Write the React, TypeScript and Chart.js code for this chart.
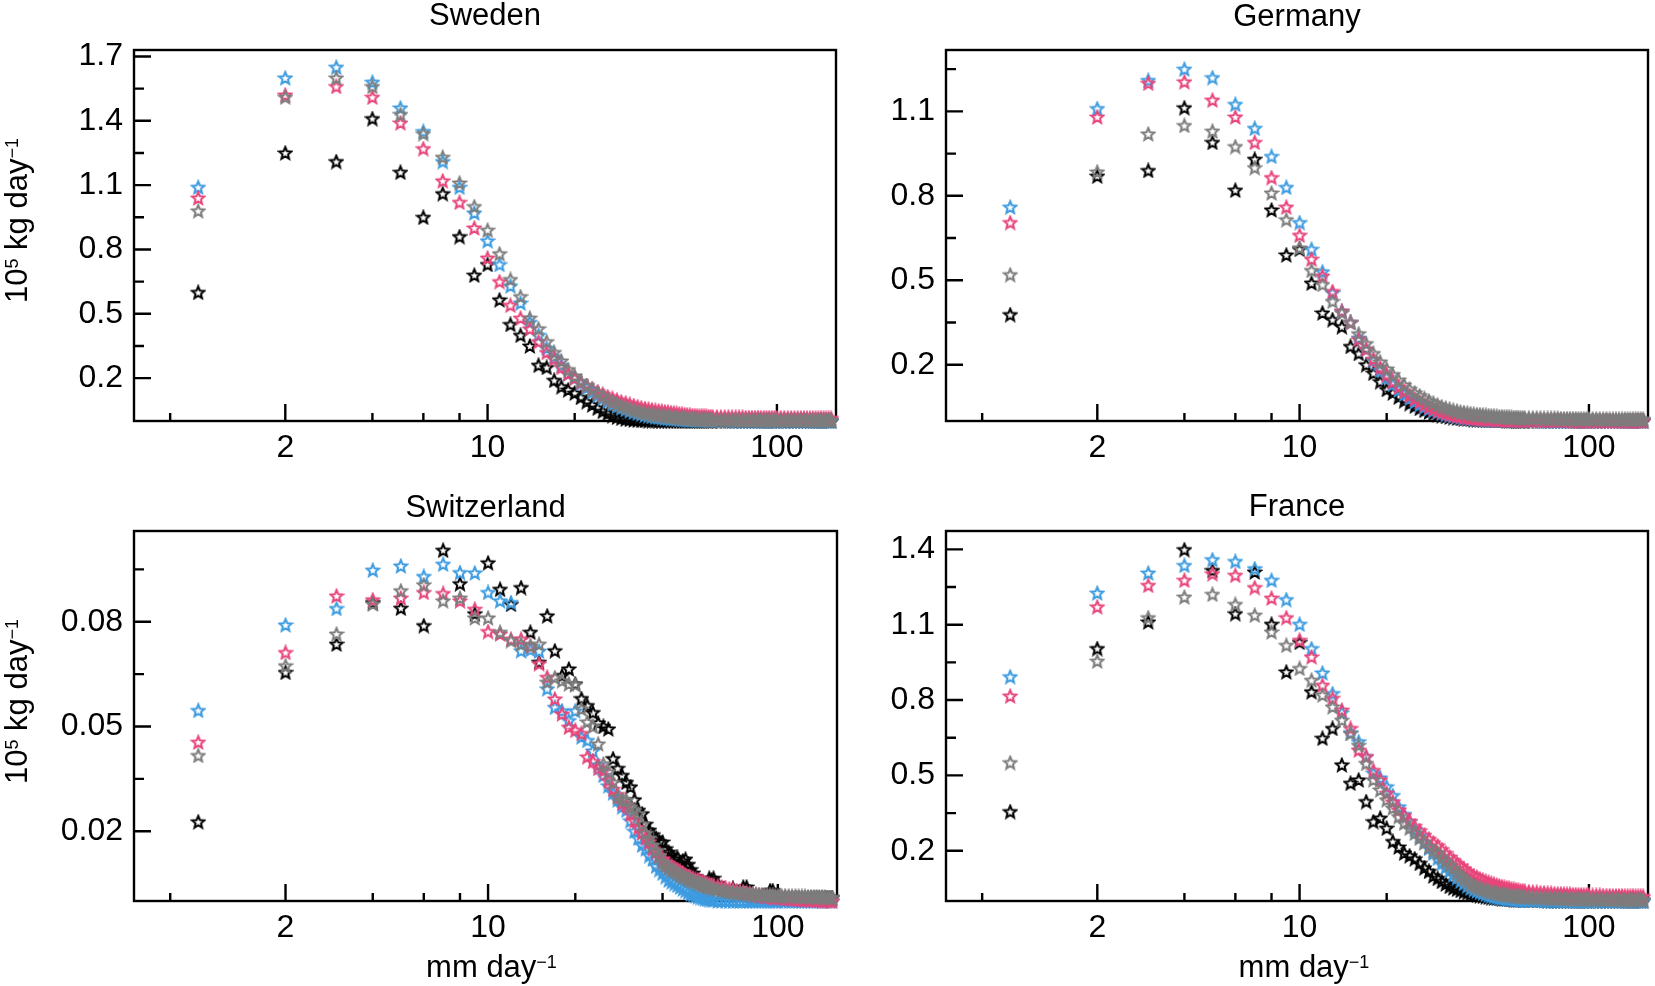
import { useEffect, useRef } from "react";
import { Chart, registerables } from "chart.js";

Chart.register(...registerables);

// rain intensity bins (mm/day) shared by every panel
const MM = [
  1, 2, 3, 4, 5, 6, 7, 8, 9, 10,
  11, 12, 13, 14, 15, 16, 17, 18, 19, 20,
  21, 22, 23, 24, 25, 26, 27, 28, 29, 30,
  31, 32, 33, 34, 35, 36, 37, 38, 39, 40,
  41, 42, 43, 44, 45, 46, 47, 48, 49, 50,
  51, 52, 53, 54, 55, 56, 57, 58, 59, 60,
  62, 64, 66, 68, 70, 72, 74, 76, 78, 80,
  82, 84, 86, 88, 90, 92, 94, 96, 98, 100,
  103, 106, 109, 112, 115, 118, 121, 124, 127, 130, 133, 136, 139, 142, 145, 148, 151, 154,
];

const X_TICKS = [0.8, 2, 4, 6, 8, 10, 20, 40, 60, 80, 100];
const X_LABELS = [2, 10, 100];

// Sweden
const SE_BLUE = [
  1.09, 1.6, 1.65, 1.58, 1.46, 1.35, 1.21, 1.09, 0.97, 0.84,
  0.73, 0.63, 0.55, 0.46, 0.4, 0.34, 0.3, 0.26, 0.22, 0.2,
  0.175, 0.155, 0.135, 0.12, 0.105, 0.092, 0.08, 0.07, 0.061, 0.054,
  0.047, 0.041, 0.036, 0.032, 0.028, 0.025, 0.022, 0.019, 0.017, 0.015,
  0.013, 0.012, 0.011, 0.01, 0.009, 0.008, 0.007, 0.007, 0.006, 0.006,
  0.005, 0.005, 0.005, 0.004, 0.004, 0.004, 0.004, 0.003, 0.003, 0.003,
  0.003, 0.003, 0.003, 0.003, 0.003, 0.002, 0.002, 0.002, 0.002, 0.002,
  0.002, 0.002, 0.002, 0.002, 0.002, 0.002, 0.002, 0.002, 0.002, 0.002,
  0.002, 0.002, 0.002, 0.002, 0.002, 0.002, 0.001, 0.001, 0.001, 0.001, 0.001, 0.001, 0.001, 0.001, 0.001, 0.001, 0.001, 0.001,
];
const SE_PINK = [
  1.04, 1.52, 1.56, 1.51, 1.39, 1.27, 1.12, 1.02, 0.9, 0.76,
  0.65, 0.54, 0.48, 0.43, 0.37, 0.32, 0.29, 0.25, 0.22, 0.2,
  0.18, 0.165, 0.15, 0.137, 0.125, 0.114, 0.105, 0.097, 0.09, 0.084,
  0.078, 0.072, 0.067, 0.062, 0.058, 0.055, 0.052, 0.049, 0.047, 0.045,
  0.043, 0.041, 0.039, 0.037, 0.035, 0.033, 0.031, 0.03, 0.028, 0.026,
  0.025, 0.024, 0.023, 0.022, 0.022, 0.021, 0.021, 0.02, 0.02, 0.019,
  0.019, 0.018, 0.018, 0.018, 0.017, 0.017, 0.017, 0.017, 0.016, 0.016,
  0.016, 0.016, 0.016, 0.015, 0.015, 0.015, 0.015, 0.015, 0.015, 0.015,
  0.015, 0.015, 0.014, 0.014, 0.014, 0.014, 0.014, 0.014, 0.013, 0.013, 0.013, 0.013, 0.013, 0.013, 0.013, 0.012, 0.012, 0.012,
];
const SE_GRAY = [
  0.98, 1.51, 1.6, 1.56, 1.43, 1.34, 1.23, 1.11, 1.0, 0.89,
  0.78, 0.66, 0.58, 0.48, 0.43, 0.37, 0.32, 0.28, 0.24, 0.21,
  0.185, 0.165, 0.147, 0.13, 0.115, 0.102, 0.09, 0.08, 0.071, 0.063,
  0.056, 0.05, 0.045, 0.041, 0.037, 0.034, 0.031, 0.029, 0.027, 0.025,
  0.023, 0.021, 0.019, 0.017, 0.016, 0.015, 0.014, 0.013, 0.012, 0.011,
  0.01, 0.009, 0.009, 0.008, 0.008, 0.007, 0.007, 0.006, 0.006, 0.006,
  0.005, 0.005, 0.005, 0.005, 0.004, 0.004, 0.004, 0.004, 0.004, 0.004,
  0.003, 0.003, 0.003, 0.003, 0.003, 0.003, 0.003, 0.003, 0.003, 0.003,
  0.003, 0.003, 0.003, 0.003, 0.003, 0.003, 0.003, 0.003, 0.003, 0.003, 0.003, 0.003, 0.003, 0.003, 0.003, 0.003, 0.003, 0.003,
];
const SE_BLACK = [
  0.6, 1.25, 1.21, 1.41, 1.16, 0.95, 1.06, 0.86, 0.68, 0.73,
  0.565, 0.45, 0.4, 0.35, 0.26, 0.25, 0.19, 0.16, 0.145, 0.13,
  0.11, 0.09, 0.075, 0.06, 0.045, 0.035, 0.025, 0.018, 0.013, 0.009,
  0.007, 0.005, 0.004, 0.003, 0.003, 0.002, 0.002, 0.002, 0.001, 0.001,
  0.001, 0.001, 0.001, 0.001, 0.001, 0.001, 0.001, 0.001, 0.001, 0.001,
  0.001, 0.001, 0.001, 0.001, 0.001, 0.001, 0.001, 0.001, 0.001, 0.001,
  0, 0, 0, 0, 0, 0, 0, 0, 0, 0,
  0, 0, 0, 0, 0, 0, 0, 0, 0, 0,
  0, 0, 0, 0, 0, 0, 0, 0, 0, 0, 0, 0, 0, 0, 0, 0, 0, 0,
];

// Germany
const DE_BLUE = [
  0.76, 1.11, 1.21, 1.25, 1.22, 1.125, 1.04, 0.94, 0.83, 0.705,
  0.61, 0.53, 0.455, 0.39, 0.35, 0.295, 0.255, 0.215, 0.18, 0.155,
  0.13, 0.11, 0.095, 0.08, 0.068, 0.058, 0.05, 0.043, 0.037, 0.032,
  0.027, 0.023, 0.02, 0.017, 0.015, 0.013, 0.011, 0.01, 0.009, 0.008,
  0.007, 0.006, 0.006, 0.005, 0.005, 0.004, 0.004, 0.004, 0.003, 0.003,
  0.003, 0.003, 0.003, 0.002, 0.002, 0.002, 0.002, 0.002, 0.002, 0.002,
  0.002, 0.002, 0.002, 0.001, 0.001, 0.001, 0.001, 0.001, 0.001, 0.001,
  0.001, 0.001, 0.001, 0.001, 0.001, 0.001, 0.001, 0.001, 0.001, 0.001,
  0.001, 0.001, 0.001, 0.001, 0.001, 0.001, 0.001, 0.001, 0.001, 0.001, 0.001, 0.001, 0.001, 0.001, 0.001, 0.001, 0.001, 0.001,
];
const DE_PINK = [
  0.705, 1.08, 1.2, 1.205, 1.14, 1.08, 0.99, 0.865, 0.76, 0.66,
  0.575, 0.515, 0.46, 0.39, 0.35, 0.29, 0.255, 0.22, 0.19, 0.165,
  0.14, 0.12, 0.105, 0.09, 0.078, 0.068, 0.058, 0.05, 0.043, 0.037,
  0.032, 0.028, 0.024, 0.021, 0.018, 0.016, 0.014, 0.012, 0.011, 0.01,
  0.009, 0.008, 0.008, 0.007, 0.007, 0.006, 0.006, 0.005, 0.005, 0.005,
  0.004, 0.004, 0.004, 0.004, 0.003, 0.003, 0.003, 0.003, 0.003, 0.003,
  0.003, 0.002, 0.002, 0.002, 0.002, 0.002, 0.002, 0.002, 0.002, 0.002,
  0.002, 0.002, 0.001, 0.001, 0.001, 0.001, 0.001, 0.001, 0.001, 0.001,
  0.001, 0.001, 0.001, 0.001, 0.001, 0.001, 0.001, 0.001, 0.001, 0.001, 0.001, 0.001, 0.001, 0.001, 0.001, 0.001, 0.001, 0.001,
];
const DE_GRAY = [
  0.52, 0.885, 1.02, 1.05, 1.03, 0.975, 0.9, 0.81, 0.715, 0.615,
  0.535, 0.485, 0.425, 0.385, 0.35, 0.31, 0.275, 0.24, 0.21, 0.185,
  0.165, 0.145, 0.128, 0.113, 0.1, 0.09, 0.08, 0.071, 0.064, 0.057,
  0.051, 0.046, 0.042, 0.038, 0.035, 0.032, 0.03, 0.028, 0.026, 0.024,
  0.023, 0.022, 0.021, 0.02, 0.019, 0.018, 0.017, 0.016, 0.015, 0.015,
  0.014, 0.014, 0.013, 0.013, 0.012, 0.012, 0.012, 0.011, 0.011, 0.011,
  0.01, 0.01, 0.01, 0.01, 0.009, 0.009, 0.009, 0.009, 0.009, 0.008,
  0.008, 0.008, 0.008, 0.008, 0.008, 0.007, 0.007, 0.007, 0.007, 0.007,
  0.007, 0.007, 0.007, 0.007, 0.007, 0.006, 0.006, 0.006, 0.006, 0.006, 0.006, 0.006, 0.006, 0.006, 0.006, 0.006, 0.006, 0.006,
];
const DE_BLACK = [
  0.378, 0.87, 0.89, 1.113, 0.99, 0.82, 0.93, 0.75, 0.59, 0.61,
  0.49, 0.384, 0.36, 0.335, 0.265, 0.24, 0.2, 0.17, 0.14, 0.112,
  0.1, 0.085, 0.072, 0.062, 0.053, 0.045, 0.038, 0.032, 0.027, 0.023,
  0.019, 0.016, 0.014, 0.012, 0.01, 0.009, 0.008, 0.007, 0.006, 0.005,
  0.004, 0.004, 0.004, 0.003, 0.003, 0.003, 0.002, 0.002, 0.002, 0.002,
  0.002, 0.001, 0.001, 0.001, 0.001, 0.001, 0.001, 0.001, 0.001, 0.001,
  0.001, 0.001, 0.001, 0.001, 0.001, 0.001, 0.001, 0.001, 0.001, 0.001,
  0.001, 0.001, 0.001, 0.001, 0.001, 0.001, 0.001, 0.001, 0.001, 0.001,
  0.001, 0.001, 0.001, 0.001, 0.001, 0.001, 0.001, 0.001, 0.001, 0.001, 0.001, 0.001, 0.001, 0.001, 0.001, 0.001, 0.001, 0.001,
];

// Switzerland
const CH_BLUE = [
  0.0546, 0.0791, 0.0838, 0.0948, 0.096, 0.093, 0.0965, 0.0941, 0.094, 0.0884,
  0.086, 0.0855, 0.0717, 0.072, 0.0716, 0.0608, 0.0555, 0.0545, 0.0517, 0.0545,
  0.047, 0.046, 0.043, 0.039, 0.036, 0.033, 0.031, 0.029, 0.027, 0.026,
  0.023, 0.02, 0.018, 0.016, 0.015, 0.013, 0.012, 0.01, 0.009, 0.008,
  0.007, 0.006, 0.0055, 0.005, 0.0045, 0.004, 0.0035, 0.003, 0.0025, 0.002,
  0.0018, 0.0015, 0.0012, 0.001, 0.0008, 0.0006, 0.0005, 0.0004, 0.0003, 0.0002,
  0, 0, 0, 0, 0, 0, 0, 0, 0, 0,
  0, 0, 0, 0, 0, 0, 0, 0, 0, 0,
  0, 0, 0, 0, 0, 0, 0, 0, 0, 0, 0, 0, 0, 0, 0, 0, 0, 0,
];
const CH_PINK = [
  0.0455, 0.0712, 0.0874, 0.0863, 0.0868, 0.0884, 0.0881, 0.086, 0.0836, 0.0772,
  0.0765, 0.075, 0.075, 0.073, 0.068, 0.0641, 0.0579, 0.0536, 0.0498, 0.0489,
  0.048, 0.0413, 0.04, 0.038, 0.0374, 0.0345, 0.032, 0.0305, 0.028, 0.0275,
  0.025, 0.023, 0.021, 0.0195, 0.018, 0.017, 0.015, 0.014, 0.013, 0.012,
  0.011, 0.0105, 0.01, 0.0095, 0.009, 0.0085, 0.008, 0.0075, 0.007, 0.0068,
  0.0065, 0.0062, 0.006, 0.0057, 0.0055, 0.0052, 0.005, 0.0048, 0.0046, 0.0045,
  0.0042, 0.004, 0.0038, 0.0035, 0.0033, 0.003, 0.0028, 0.0026, 0.0024, 0.0022,
  0.002, 0.0018, 0.0016, 0.0015, 0.0014, 0.0013, 0.0012, 0.0011, 0.001, 0.001,
  0.0009, 0.0008, 0.0007, 0.0006, 0.0005, 0.0005, 0.0004, 0.0004, 0.0003, 0.0003, 0.0002, 0.0002, 0.0002, 0.0001, 0.0001, 0.0001, 0, 0,
];
const CH_GRAY = [
  0.0417, 0.0674, 0.0765, 0.0851, 0.0889, 0.0906, 0.086, 0.0868, 0.0811, 0.0811,
  0.077, 0.0746, 0.0736, 0.073, 0.0736, 0.0627, 0.064, 0.0631, 0.0622, 0.062,
  0.055, 0.0513, 0.05, 0.045, 0.0393, 0.037, 0.034, 0.0298, 0.029, 0.0289,
  0.027, 0.026, 0.025, 0.022, 0.0194, 0.018, 0.016, 0.0145, 0.013, 0.011,
  0.0102, 0.0095, 0.009, 0.0085, 0.008, 0.0075, 0.007, 0.0068, 0.0064, 0.006,
  0.0057, 0.0055, 0.0052, 0.005, 0.0047, 0.0045, 0.0042, 0.004, 0.0038, 0.0035,
  0.0033, 0.003, 0.0029, 0.0027, 0.0025, 0.0024, 0.0023, 0.0022, 0.0021, 0.002,
  0.002, 0.0019, 0.0018, 0.0018, 0.0017, 0.0017, 0.0016, 0.0016, 0.0015, 0.0015,
  0.0015, 0.0015, 0.0014, 0.0014, 0.0014, 0.0013, 0.0013, 0.0013, 0.0012, 0.0012, 0.0012, 0.0012, 0.0011, 0.0011, 0.0011, 0.001, 0.001, 0.001,
];
const CH_BLACK = [
  0.0227, 0.0655, 0.0736, 0.0855, 0.0839, 0.0789, 0.1005, 0.0909, 0.0823, 0.0969,
  0.0893, 0.085, 0.0898, 0.077, 0.0684, 0.0817, 0.0717, 0.0646, 0.0665, 0.0622,
  0.058, 0.056, 0.054, 0.051, 0.05, 0.0493, 0.0408, 0.038, 0.036, 0.034,
  0.0327, 0.029, 0.026, 0.025, 0.022, 0.0203, 0.019, 0.018, 0.017, 0.0169,
  0.015, 0.014, 0.013, 0.012, 0.0125, 0.011, 0.0115, 0.012, 0.0105, 0.009,
  0.008, 0.007, 0.006, 0.0055, 0.005, 0.0045, 0.004, 0.0065, 0.006, 0.0065,
  0.005, 0.003, 0.0025, 0.002, 0.0037, 0.002, 0.0018, 0.004, 0.004, 0.0018,
  0.0015, 0.0015, 0.0015, 0.0015, 0.0015, 0.0015, 0.003, 0.003, 0.0015, 0.0015,
  0.001, 0.001, 0.001, 0.001, 0.001, 0.001, 0.001, 0.001, 0.001, 0.001, 0.001, 0.001, 0.001, 0.001, 0.001, 0.001, 0.001, 0.001,
];

// France
const FR_BLUE = [
  0.893, 1.226, 1.306, 1.336, 1.359, 1.352, 1.323, 1.277, 1.2, 1.102,
  1.005, 0.908, 0.826, 0.75, 0.67, 0.634, 0.575, 0.509, 0.49, 0.455,
  0.42, 0.375, 0.345, 0.315, 0.285, 0.26, 0.235, 0.21, 0.19, 0.17,
  0.15, 0.135, 0.12, 0.105, 0.093, 0.08, 0.07, 0.06, 0.052, 0.045,
  0.04, 0.035, 0.031, 0.027, 0.023, 0.02, 0.017, 0.015, 0.013, 0.012,
  0.01, 0.009, 0.008, 0.007, 0.006, 0.005, 0.005, 0.004, 0.004, 0.003,
  0.003, 0.002, 0.002, 0.002, 0.001, 0.001, 0.001, 0.001, 0.001, 0.001,
  0, 0, 0, 0, 0, 0, 0, 0, 0, 0,
  0, 0, 0, 0, 0, 0, 0, 0, 0, 0, 0, 0, 0, 0, 0, 0, 0, 0,
];
const FR_PINK = [
  0.816, 1.171, 1.257, 1.277, 1.303, 1.297, 1.248, 1.206, 1.128, 1.038,
  0.972, 0.859, 0.807, 0.76, 0.687, 0.601, 0.575, 0.52, 0.482, 0.429,
  0.395, 0.363, 0.34, 0.318, 0.297, 0.28, 0.262, 0.246, 0.232, 0.22,
  0.205, 0.19, 0.175, 0.162, 0.15, 0.14, 0.128, 0.118, 0.108, 0.1,
  0.094, 0.088, 0.083, 0.078, 0.074, 0.07, 0.066, 0.063, 0.06, 0.057,
  0.054, 0.052, 0.05, 0.048, 0.046, 0.044, 0.042, 0.041, 0.04, 0.039,
  0.037, 0.035, 0.034, 0.033, 0.032, 0.031, 0.03, 0.029, 0.028, 0.028,
  0.027, 0.026, 0.026, 0.025, 0.025, 0.024, 0.024, 0.023, 0.023, 0.023,
  0.022, 0.022, 0.022, 0.021, 0.021, 0.021, 0.02, 0.02, 0.02, 0.02, 0.019, 0.019, 0.019, 0.019, 0.018, 0.018, 0.018, 0.018,
];
const FR_GRAY = [
  0.551, 0.955, 1.128, 1.21, 1.221, 1.181, 1.138, 1.071, 1.018, 0.926,
  0.879, 0.82, 0.773, 0.72, 0.667, 0.62, 0.548, 0.482, 0.442, 0.403,
  0.37, 0.336, 0.31, 0.29, 0.27, 0.25, 0.232, 0.215, 0.2, 0.19,
  0.172, 0.157, 0.143, 0.13, 0.112, 0.1, 0.088, 0.078, 0.068, 0.06,
  0.055, 0.05, 0.046, 0.042, 0.039, 0.036, 0.033, 0.031, 0.029, 0.027,
  0.025, 0.024, 0.022, 0.021, 0.02, 0.019, 0.018, 0.017, 0.016, 0.016,
  0.015, 0.014, 0.013, 0.012, 0.012, 0.011, 0.011, 0.01, 0.01, 0.01,
  0.009, 0.009, 0.009, 0.008, 0.008, 0.008, 0.008, 0.007, 0.007, 0.007,
  0.007, 0.007, 0.006, 0.006, 0.006, 0.006, 0.006, 0.006, 0.005, 0.005, 0.005, 0.005, 0.005, 0.005, 0.005, 0.005, 0.005, 0.005,
];
const FR_BLACK = [
  0.356, 1.005, 1.111, 1.399, 1.316, 1.144, 1.31, 1.102, 0.912, 1.03,
  0.833, 0.648, 0.687, 0.542, 0.469, 0.482, 0.396, 0.316, 0.33, 0.29,
  0.237, 0.215, 0.191, 0.18, 0.168, 0.15, 0.132, 0.118, 0.1, 0.09,
  0.078, 0.068, 0.058, 0.052, 0.047, 0.042, 0.037, 0.033, 0.029, 0.026,
  0.023, 0.021, 0.019, 0.017, 0.015, 0.013, 0.012, 0.011, 0.01, 0.009,
  0.008, 0.007, 0.006, 0.006, 0.005, 0.005, 0.004, 0.004, 0.003, 0.003,
  0.003, 0.002, 0.002, 0.002, 0.002, 0.001, 0.001, 0.001, 0.001, 0.001,
  0.001, 0.001, 0.001, 0.001, 0.001, 0.001, 0.001, 0.001, 0.001, 0.001,
  0.001, 0.001, 0.001, 0.001, 0.001, 0.001, 0.001, 0.001, 0.001, 0.001, 0.001, 0.001, 0.001, 0.001, 0.001, 0.001, 0.001, 0.001,
];

const SE_YTICKS = [0.2, 0.35, 0.5, 0.65, 0.8, 0.95, 1.1, 1.25, 1.4, 1.55, 1.7];
const SE_YLABELS = [0.2, 0.5, 0.8, 1.1, 1.4, 1.7];
const DE_YTICKS = [0.2, 0.35, 0.5, 0.65, 0.8, 0.95, 1.1, 1.25];
const DE_YLABELS = [0.2, 0.5, 0.8, 1.1];
const CH_YTICKS = [0.02, 0.035, 0.05, 0.065, 0.08, 0.095];
const CH_YLABELS = [0.02, 0.05, 0.08];
const FR_YTICKS = [0.2, 0.35, 0.5, 0.65, 0.8, 0.95, 1.1, 1.25, 1.4];
const FR_YLABELS = [0.2, 0.5, 0.8, 1.1, 1.4];

const BLUE = "#3d9be0";
const PINK = "#e8457a";
const GRAY = "#7d7d7d";
const BLACK = "#000000";

const FONT = "'Liberation Sans', Arial, Helvetica, sans-serif";
const XAXIS_H = 40;
const TICK_SIZE = 32;

const starCache: Record<string, HTMLCanvasElement> = {};
function starImage(color: string) {
  if (starCache[color]) return starCache[color];
  const size = 16;
  const c = document.createElement("canvas");
  c.width = size;
  c.height = size;
  const g = c.getContext("2d")!;
  g.strokeStyle = color;
  g.lineWidth = 2;
  g.lineJoin = "miter";
  g.beginPath();
  for (let i = 0; i < 10; i++) {
    const r = i % 2 === 0 ? 6.5 : 2.9;
    const a = -Math.PI / 2 + (i * Math.PI) / 5;
    const px = size / 2 + r * Math.cos(a);
    const py = size / 2 + 0.6 + r * Math.sin(a);
    if (i === 0) g.moveTo(px, py);
    else g.lineTo(px, py);
  }
  g.closePath();
  g.stroke();
  starCache[color] = c;
  return c;
}

const near = (list: number[], v: number) => list.some((t) => Math.abs(t - v) < 1e-9);

// text with superscripts, parts = [text, isSuperscript]
function drawRich(ctx: CanvasRenderingContext2D, parts: [string, boolean][], x: number, y: number, size: number, center: boolean) {
  const sup = Math.round(size * 0.58);
  const widths = parts.map(([t, s]) => {
    ctx.font = `${s ? sup : size}px ${FONT}`;
    return ctx.measureText(t).width;
  });
  const total = widths.reduce((a, b) => a + b, 0);
  let cx = center ? x - total / 2 : x;
  ctx.textAlign = "left";
  ctx.textBaseline = "alphabetic";
  parts.forEach(([t, s], i) => {
    ctx.font = `${s ? sup : size}px ${FONT}`;
    ctx.fillText(t, cx, s ? y - size * 0.3 : y);
    cx += widths[i];
  });
}

type Spec = {
  title: string;
  left: number;
  top: number;
  width: number;
  height: number;
  area: { left: number; top: number; right: number; bottom: number };
  yMax: number;
  yTicks: number[];
  yLabels: number[];
  digits: number;
  series: { color: string; values: number[] }[];
  yTitle: boolean;
  xTitle: boolean;
  titleGap: number;
  xTitleShift: number;
};

function decorations(spec: Spec) {
  return {
    id: "decorations",
    beforeDatasetsDraw(chart: any) {
      const { ctx, chartArea: a } = chart;
      const xs = chart.scales.x;
      const ys = chart.scales.y;
      ctx.save();
      ctx.strokeStyle = "#000";
      ctx.lineWidth = 2.4;
      ctx.strokeRect(a.left, a.top, a.right - a.left, a.bottom - a.top);
      ctx.beginPath();
      X_TICKS.forEach((v) => {
        const p = xs.getPixelForValue(v);
        const len = near(X_LABELS, v) ? 17 : 8;
        ctx.moveTo(p, a.bottom);
        ctx.lineTo(p, a.bottom - len);
      });
      spec.yTicks.forEach((v) => {
        const p = ys.getPixelForValue(v);
        const len = near(spec.yLabels, v) ? 17 : 10;
        ctx.moveTo(a.left, p);
        ctx.lineTo(a.left + len, p);
      });
      ctx.stroke();
      ctx.restore();
    },
    afterDraw(chart: any) {
      const { ctx, chartArea: a } = chart;
      ctx.save();
      ctx.fillStyle = "#000";
      ctx.font = `31px ${FONT}`;
      ctx.textAlign = "center";
      ctx.textBaseline = "alphabetic";
      ctx.fillText(spec.title, (a.left + a.right) / 2, a.top - spec.titleGap);
      if (spec.xTitle) {
        drawRich(ctx, [["mm day", false], ["\u22121", true]], (a.left + a.right) / 2 + spec.xTitleShift, a.bottom + 76, 31, true);
      }
      if (spec.yTitle) {
        ctx.save();
        ctx.translate(27, a.top + 253);
        ctx.rotate(-Math.PI / 2);
        drawRich(ctx, [["10", false], ["5", true], [" kg day", false], ["\u22121", true]], 0, 0, 31, false);
        ctx.restore();
      }
      ctx.restore();
    },
  };
}

function Panel({ spec }: { spec: Spec }) {
  const canvasRef = useRef<HTMLCanvasElement>(null);

  useEffect(() => {
    if (!canvasRef.current) return;
    const { area, width, height } = spec;
    const chart = new Chart(canvasRef.current, {
      type: "scatter",
      data: {
        // first dataset is drawn on top
        datasets: spec.series.map((s) => ({
          data: MM.map((x, i) => ({ x, y: s.values[i] })),
          pointStyle: starImage(s.color),
          pointRadius: 6,
          borderColor: s.color,
          backgroundColor: s.color,
          clip: false,
        })),
      },
      options: {
        animation: false,
        responsive: false,
        events: [],
        layout: {
          padding: {
            left: 0,
            top: area.top,
            right: width - area.right,
            bottom: height - area.bottom - XAXIS_H,
          },
        },
        plugins: {
          legend: { display: false },
          tooltip: { enabled: false },
        },
        scales: {
          x: {
            type: "logarithmic",
            position: "bottom",
            min: 0.6,
            max: 160,
            afterBuildTicks: (s: any) => {
              s.ticks = X_TICKS.map((v) => ({ value: v }));
            },
            afterFit: (s: any) => {
              s.height = XAXIS_H;
            },
            grid: { display: false, drawTicks: false },
            border: { display: false },
            ticks: {
              autoSkip: false,
              maxRotation: 0,
              minRotation: 0,
              padding: 8,
              color: "#000",
              font: { family: FONT, size: TICK_SIZE },
              callback: (v: any) => (near(X_LABELS, Number(v)) ? String(Number(v)) : ""),
            },
          },
          y: {
            type: "linear",
            min: 0,
            max: spec.yMax,
            afterBuildTicks: (s: any) => {
              s.ticks = spec.yTicks.map((v) => ({ value: v }));
            },
            afterFit: (s: any) => {
              s.width = area.left;
            },
            grid: { display: false, drawTicks: false },
            border: { display: false },
            ticks: {
              autoSkip: false,
              padding: 11,
              color: "#000",
              font: { family: FONT, size: TICK_SIZE },
              callback: (v: any) => (near(spec.yLabels, Number(v)) ? Number(v).toFixed(spec.digits) : ""),
            },
          },
        },
      } as any,
      plugins: [decorations(spec)],
    });
    return () => chart.destroy();
  }, [spec]);

  return (
    <canvas
      ref={canvasRef}
      width={spec.width}
      height={spec.height}
      style={{ position: "absolute", left: spec.left, top: spec.top, width: spec.width, height: spec.height }}
    />
  );
}

const PANELS: Spec[] = [
  {
    title: "Sweden",
    left: 0, top: 0, width: 850, height: 470,
    area: { left: 134, top: 50, right: 836, bottom: 421 },
    yMax: 1.73, yTicks: SE_YTICKS, yLabels: SE_YLABELS, digits: 1,
    series: [
      { color: GRAY, values: SE_GRAY },
      { color: PINK, values: SE_PINK },
      { color: BLUE, values: SE_BLUE },
      { color: BLACK, values: SE_BLACK },
    ],
    yTitle: true, xTitle: false, titleGap: 25, xTitleShift: 6,
  },
  {
    title: "Germany",
    left: 850, top: 0, width: 805, height: 470,
    area: { left: 96, top: 50, right: 798, bottom: 421 },
    yMax: 1.318, yTicks: DE_YTICKS, yLabels: DE_YLABELS, digits: 1,
    series: [
      { color: GRAY, values: DE_GRAY },
      { color: PINK, values: DE_PINK },
      { color: BLUE, values: DE_BLUE },
      { color: BLACK, values: DE_BLACK },
    ],
    yTitle: false, xTitle: false, titleGap: 24, xTitleShift: 7,
  },
  {
    title: "Switzerland",
    left: 0, top: 470, width: 850, height: 516,
    area: { left: 134, top: 61, right: 837, bottom: 431 },
    yMax: 0.106, yTicks: CH_YTICKS, yLabels: CH_YLABELS, digits: 2,
    series: [
      { color: GRAY, values: CH_GRAY },
      { color: PINK, values: CH_PINK },
      { color: BLUE, values: CH_BLUE },
      { color: BLACK, values: CH_BLACK },
    ],
    yTitle: true, xTitle: true, titleGap: 14, xTitleShift: 6,
  },
  {
    title: "France",
    left: 850, top: 470, width: 805, height: 516,
    area: { left: 96, top: 61, right: 798, bottom: 431 },
    yMax: 1.473, yTicks: FR_YTICKS, yLabels: FR_YLABELS, digits: 1,
    series: [
      { color: GRAY, values: FR_GRAY },
      { color: PINK, values: FR_PINK },
      { color: BLUE, values: FR_BLUE },
      { color: BLACK, values: FR_BLACK },
    ],
    yTitle: false, xTitle: true, titleGap: 15, xTitleShift: 7,
  },
];

export default function App() {
  return (
    <div style={{ position: "absolute", left: 0, top: 0, width: 1655, height: 986, background: "#fff", overflow: "hidden" }}>
      {PANELS.map((p) => (
        <Panel key={p.title} spec={p} />
      ))}
    </div>
  );
}
